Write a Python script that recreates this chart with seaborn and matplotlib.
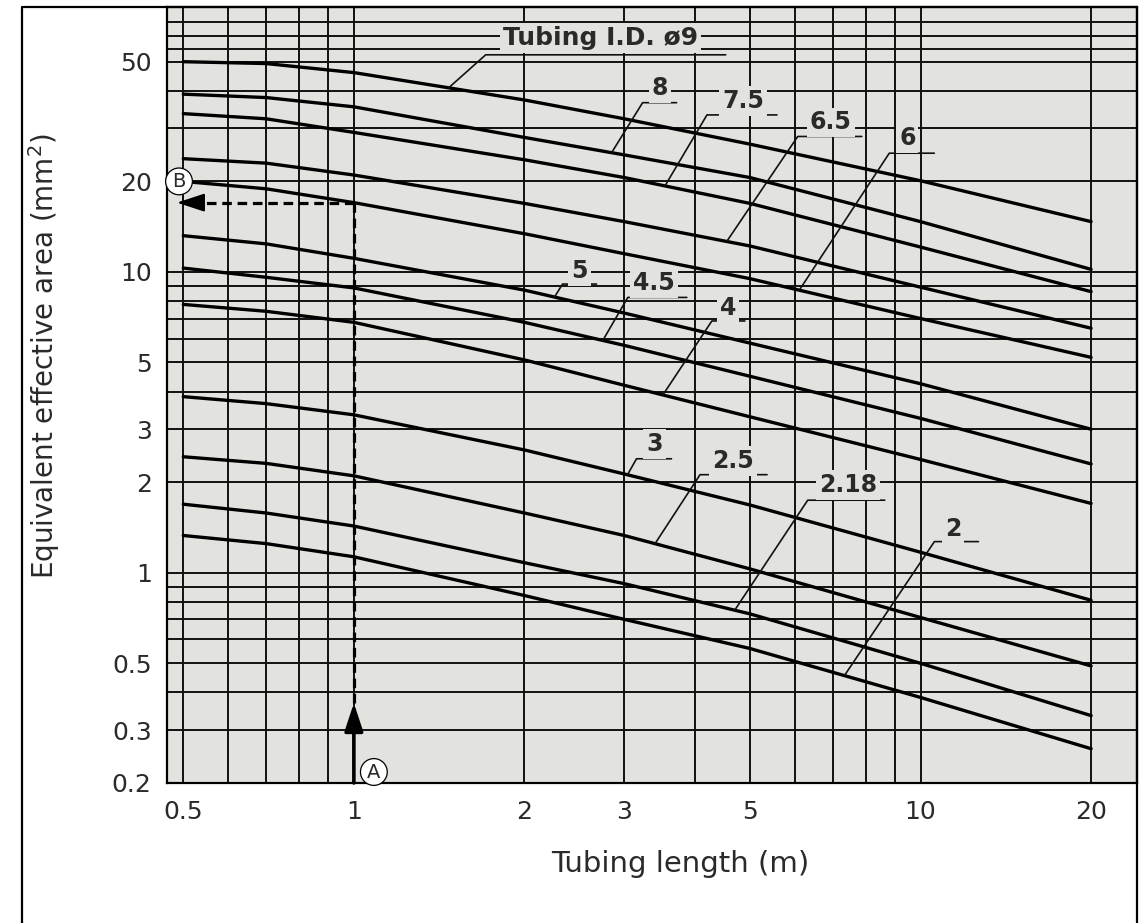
import numpy as np
import pandas as pd
import matplotlib
matplotlib.use("Agg")
import matplotlib.pyplot as plt
import matplotlib.ticker as mticker
import seaborn as sns

# ---------------- data ----------------
lengths = [0.5, 0.7, 1, 2, 3, 5, 10, 20]

area_9 = [50, 49.3, 46, 37.3, 32.3, 26.6, 20.1, 14.7]
area_8 = [39, 38.0, 35.4, 28, 24.5, 20.6, 14.7, 10.2]
area_7_5 = [33.6, 32.3, 29.1, 23.6, 20.6, 16.9, 12.1, 8.6]
area_6_5 = [23.8, 23.0, 21, 16.9, 14.7, 12.2, 8.9, 6.5]
area_6 = [20, 18.9, 17, 13.4, 11.5, 9.5, 7.0, 5.2]
area_5 = [13.2, 12.4, 11.1, 8.7, 7.3, 5.8, 4.25, 3.0]
area_4_5 = [10.3, 9.6, 8.85, 6.8, 5.7, 4.5, 3.26, 2.3]
area_4 = [7.8, 7.4, 6.8, 5.1, 4.2, 3.3, 2.38, 1.7]
area_3 = [3.85, 3.65, 3.35, 2.56, 2.13, 1.68, 1.17, 0.81]
area_2_5 = [2.43, 2.31, 2.1, 1.58, 1.33, 1.03, 0.71, 0.49]
area_2_18 = [1.69, 1.58, 1.43, 1.08, 0.92, 0.73, 0.50, 0.335]
area_2 = [1.33, 1.25, 1.13, 0.84, 0.70, 0.56, 0.385, 0.26]

tubing_ids = ["Tubing I.D. ø9", "8", "7.5", "6.5", "6", "5", "4.5", "4", "3", "2.5", "2.18", "2"]
series = [area_9, area_8, area_7_5, area_6_5, area_6, area_5, area_4_5, area_4,
          area_3, area_2_5, area_2_18, area_2]

# length at which each label's leader touches its curve
leader_x = [1.47, 2.85, 3.54, 4.55, 6.11, 2.26, 2.75, 3.51, 3.04, 3.40, 4.70, 7.34]

x_ticks = [0.5, 1, 2, 3, 5, 10, 20]
x_tick_labels = ["0.5", "1", "2", "3", "5", "10", "20"]
y_ticks = [0.2, 0.3, 0.5, 1, 2, 3, 5, 10, 20, 50]
y_tick_labels = ["0.2", "0.3", "0.5", "1", "2", "3", "5", "10", "20", "50"]

example_length = 1  # point A

# ---------------- styling / layout ----------------
W, H = 1145, 923
BG = "#e2e2df"
INK = "#111111"
TXT = "#2a2a2a"

v_grid = [0.5, 0.6, 0.7, 0.8, 0.9, 1, 2, 3, 4, 5, 6, 7, 8, 9, 10, 20]
h_grid = [0.3, 0.4, 0.5, 0.6, 0.7, 0.8, 0.9, 1, 2, 3, 4, 5, 6, 7, 8, 9, 10,
          20, 30, 40, 50, 55, 61, 68]

# leader geometry in pixels: (corner dx, corner dy, underline length, text dx, text dy)
leader_geom = [
    (37, 33, 240, 115, 17),
    (31, 50, 34, 17, 15),
    (42, 71, 70, 36, 14),
    (71, 105, 64, 33, 14),
    (90, 137, 45, 18, 15),
    (8, 13, 34, 17, 13),
    (25, 43, 59, 26, 14),
    (49, 74, 33, 16, 13),
    (9, 16, 35, 18, 15),
    (45, 69, 67, 33, 14),
    (73, 110, 77, 40, 15),
    (90, 134, 44, 19, 13),
]

sns.set_style("white")
plt.rcParams["font.family"] = ["DejaVu Sans"]

rows = []
for name, vals in zip(tubing_ids, series):
    for L, a in zip(lengths, vals):
        rows.append({"tubing": name, "length": L, "area": a})
df = pd.DataFrame(rows)

fig = plt.figure(figsize=(W / 100, H / 100), dpi=100)
ax = fig.add_axes([167 / W, 1 - 783 / H, (1137 - 167) / W, (783 - 7) / H])
ax.set_facecolor(BG)
ax.set_xscale("log")
ax.set_yscale("log")
ax.set_xlim(0.468, 24.1)
ax.set_ylim(0.2, 76)

for v in v_grid:
    ax.axvline(v, color=INK, lw=1.4, zorder=1)
for h in h_grid:
    ax.axhline(h, color=INK, lw=1.4, zorder=1)

sns.lineplot(data=df, x="length", y="area", units="tubing", estimator=None,
             color="black", lw=2.4, ax=ax, legend=False, zorder=3)

ax.set_xticks(x_ticks)
ax.set_xticklabels(x_tick_labels)
ax.set_yticks(y_ticks)
ax.set_yticklabels(y_tick_labels)
ax.xaxis.set_minor_locator(mticker.NullLocator())
ax.yaxis.set_minor_locator(mticker.NullLocator())
ax.tick_params(axis="both", which="both", length=0, labelsize=18, colors=TXT)
ax.tick_params(axis="x", pad=12)
ax.tick_params(axis="y", pad=11)
for s in ax.spines.values():
    s.set_visible(True)
    s.set_color("black")
    s.set_linewidth(1.6)
    s.set_zorder(6)

ax.set_xlabel("Tubing length (m)", fontsize=21, color=TXT)
ax.xaxis.set_label_coords(0.529, -0.086)
ax.set_ylabel("Equivalent effective area (mm$^2$)", fontsize=20, color=TXT)
ax.yaxis.set_label_coords(-0.108, 0.55)


def to_data(p):
    return ax.transData.inverted().transform(p)


def curve_value(vals, x):
    return 10 ** np.interp(np.log10(x), np.log10(lengths), np.log10(vals))


# labels with leaders
for name, vals, lx, (cdx, cdy, ul, tdx, tdy) in zip(tubing_ids, series, leader_x, leader_geom):
    y_t = curve_value(vals, lx)
    p0 = ax.transData.transform((lx, y_t))
    corner = p0 + np.array([cdx, cdy])
    end = corner + np.array([ul, 0])
    pts = to_data(np.array([p0, corner, end]))
    ax.plot(pts[:, 0], pts[:, 1], color=INK, lw=1.2, zorder=4)
    tp = to_data(corner + np.array([tdx, tdy]))
    fs = 18 if name.startswith("Tubing") else 17
    ax.text(tp[0], tp[1], name, ha="center", va="center", fontsize=fs,
            fontweight="bold", color=TXT, zorder=5,
            bbox=dict(boxstyle="square,pad=0.12", fc=BG, ec="none"))

# worked example A -> curve 6 -> B
y_b = curve_value(area_6, example_length)
p_bottom = ax.transData.transform((example_length, 0.2))
tip = to_data(p_bottom + np.array([0, 80]))
ax.annotate("", xy=tip, xytext=(example_length, 0.2),
            arrowprops=dict(arrowstyle="-|>,head_length=0.85,head_width=0.28",
                            lw=2.6, color="black", shrinkA=0, shrinkB=0,
                            mutation_scale=20), zorder=5)
ax.plot([example_length, example_length], [tip[1], y_b], color="black", lw=2.3,
        ls=(0, (3, 1.8)), zorder=5)
left_px = ax.transAxes.transform((0, 0))[0]
p_row = ax.transData.transform((example_length, y_b))
head_tip = to_data(np.array([left_px + 10, p_row[1]]))
head_base = to_data(np.array([left_px + 32, p_row[1]]))
ax.plot([example_length, head_base[0]], [y_b, y_b], color="black", lw=2.3,
        ls=(0, (3, 1.8)), zorder=5)
ax.annotate("", xy=head_tip, xytext=head_base,
            arrowprops=dict(arrowstyle="-|>,head_length=0.85,head_width=0.28",
                            lw=1.5, color="black", shrinkA=0, shrinkB=0,
                            mutation_scale=20), zorder=5)

circ = dict(boxstyle="circle,pad=0.2", fc="white", ec="black", lw=0.9)
ax.annotate("B", xy=(ax.get_xlim()[0], 20), xytext=(12, 0), textcoords="offset pixels",
            ha="center", va="center", fontsize=14, color=TXT, bbox=circ, zorder=7,
            annotation_clip=False)
ax.annotate("A", xy=(example_length, 0.2), xytext=(20, 11), textcoords="offset pixels",
            ha="center", va="center", fontsize=14, color=TXT, bbox=circ, zorder=7)

# outer frame of the figure (open at the bottom)
fx = lambda px: px / W
fy = lambda py: 1 - py / H
fig.add_artist(plt.Line2D([fx(22), fx(22), fx(1137), fx(1137)],
                          [fy(923), fy(7), fy(7), fy(923)],
                          color="black", lw=1.6, transform=fig.transFigure))

fig.savefig("out.png", dpi=100, facecolor="white")
